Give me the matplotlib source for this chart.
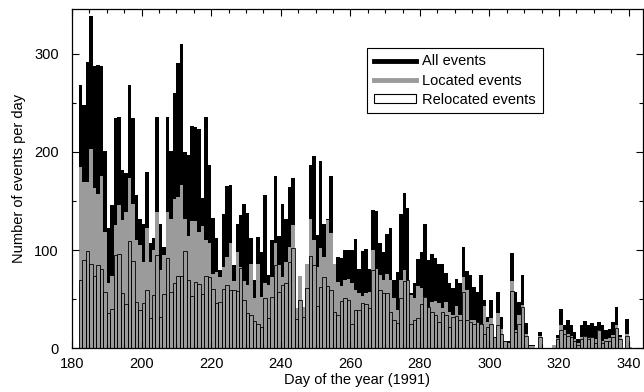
import numpy as np
import matplotlib
matplotlib.use("Agg")
import matplotlib.pyplot as plt
from matplotlib.lines import Line2D
from matplotlib.patches import Patch
from matplotlib.ticker import MultipleLocator

plt.rcParams['font.family'] = ['Liberation Sans', 'DejaVu Sans']

days = list(range(182, 341))

all_events = [
    268, 248, 291, 338, 287, 288, 287, 201, 122, 146,
    234, 235, 181, 178, 268, 234, 156, 132, 127, 179,
    107, 112, 235, 126, 103, 235, 201, 260, 290, 310,
    200, 197, 226, 225, 223, 153, 235, 187, 133, 112,
    80, 137, 165, 166, 85, 127, 136, 147, 138, 112,
    70, 113, 98, 156, 75, 110, 175, 114, 147, 132,
    164, 173, 41, 74, 42, 86, 187, 196, 115, 191,
    126, 132, 175, 86, 93, 92, 100, 100, 100, 111,
    81, 99, 101, 81, 141, 140, 107, 98, 116, 122,
    70, 78, 137, 158, 143, 56, 66, 91, 98, 126,
    90, 96, 92, 86, 86, 77, 66, 61, 71, 66,
    103, 79, 75, 62, 57, 75, 49, 32, 49, 12,
    57, 32, 7, 7, 97, 57, 47, 75, 26, 3,
    3, 0, 17, 0, 0, 0, 3, 14, 40, 24,
    29, 24, 17, 9, 24, 28, 24, 26, 23, 27,
    24, 19, 20, 27, 42, 14, 0, 30, 1,
]

located_events = [
    185, 169, 169, 203, 163, 157, 175, 118, 66, 74,
    125, 146, 131, 139, 173, 147, 110, 105, 88, 122,
    88, 100, 139, 80, 95, 139, 132, 152, 154, 166,
    132, 114, 130, 130, 118, 124, 110, 107, 76, 78,
    73, 83, 93, 107, 68, 98, 83, 68, 64, 86,
    51, 86, 52, 66, 64, 73, 107, 85, 73, 88,
    103, 125, 41, 74, 42, 86, 132, 110, 83, 102,
    93, 131, 117, 86, 67, 63, 70, 71, 66, 59,
    56, 53, 56, 57, 100, 81, 75, 69, 76, 69,
    51, 39, 69, 80, 69, 54, 51, 63, 61, 52,
    42, 47, 48, 46, 41, 47, 37, 34, 43, 34,
    73, 59, 29, 29, 27, 25, 43, 27, 31, 12,
    36, 20, 7, 5, 68, 19, 34, 44, 15, 2,
    2, 0, 13, 0, 0, 0, 3, 10, 24, 19,
    15, 13, 9, 5, 12, 13, 10, 12, 9, 19,
    7, 9, 10, 14, 24, 12, 0, 15, 1,
]

relocated_events = [
    70, 90, 99, 86, 74, 85, 81, 57, 36, 40,
    95, 96, 56, 45, 109, 89, 47, 39, 46, 59,
    31, 54, 95, 32, 55, 92, 57, 66, 74, 74,
    99, 70, 53, 67, 65, 55, 74, 73, 60, 46,
    47, 60, 64, 59, 59, 58, 82, 49, 36, 34,
    28, 25, 22, 51, 31, 52, 85, 57, 64, 66,
    88, 102, 30, 49, 32, 61, 94, 85, 43, 62,
    73, 63, 59, 37, 34, 48, 51, 49, 25, 39,
    39, 46, 45, 41, 80, 82, 59, 56, 56, 37,
    29, 26, 51, 68, 69, 25, 29, 31, 45, 52,
    42, 37, 34, 27, 37, 34, 22, 32, 33, 29,
    57, 29, 27, 25, 27, 25, 15, 22, 25, 11,
    24, 15, 7, 0, 58, 17, 25, 42, 13, 0,
    0, 0, 11, 0, 0, 0, 0, 9, 19, 15,
    13, 12, 7, 3, 9, 13, 9, 11, 5, 19,
    5, 7, 7, 12, 21, 9, 0, 13, 0,
]

GRAY = '#9b9b9b'

fig = plt.figure(figsize=(6.44, 3.92), dpi=100)
ax = fig.add_axes([0.1118, 0.1115, 0.886, 0.8648])

ax.bar(days, all_events, width=1.0, align='edge', color='black', linewidth=0)
ax.bar(days, located_events, width=1.0, align='edge', color=GRAY, linewidth=0)
ax.bar(days, relocated_events, width=1.0, align='edge', facecolor='none',
       edgecolor='black', linewidth=0.6)

ax.set_xlim(180, 344)
ax.set_ylim(0, 345)
ax.xaxis.set_major_locator(MultipleLocator(20))
ax.xaxis.set_minor_locator(MultipleLocator(5))
ax.yaxis.set_major_locator(MultipleLocator(100))
ax.yaxis.set_minor_locator(MultipleLocator(50))
ax.tick_params(which='both', direction='in', top=True, right=True, labelsize=10.5)
ax.tick_params(which='major', length=5, width=0.8)
ax.tick_params(which='minor', length=3, width=0.8)
ax.tick_params(axis='x', which='major', pad=6)
ax.tick_params(axis='y', which='major', pad=9.5)
for s in ax.spines.values():
    s.set_linewidth(0.9)

ax.set_xlabel('Day of the year (1991)', fontsize=10.5, labelpad=2)
ax.set_ylabel('Number of events per day', fontsize=10.5, labelpad=6)

handles = [
    Line2D([], [], color='black', lw=3.5),
    Line2D([], [], color=GRAY, lw=3.5),
    Patch(facecolor='white', edgecolor='black', linewidth=0.8),
]
leg = ax.legend(handles, ['All events', 'Located events', 'Relocated events'],
                loc='upper left', bbox_to_anchor=(0.517, 0.886), fontsize=10.5,
                frameon=True, fancybox=False, edgecolor='black', framealpha=1,
                borderpad=0.45, labelspacing=0.35, handlelength=2.9,
                handleheight=0.5, handletextpad=0.45, borderaxespad=0)
leg.get_frame().set_linewidth(0.8)

fig.savefig('out.png', dpi=100)
